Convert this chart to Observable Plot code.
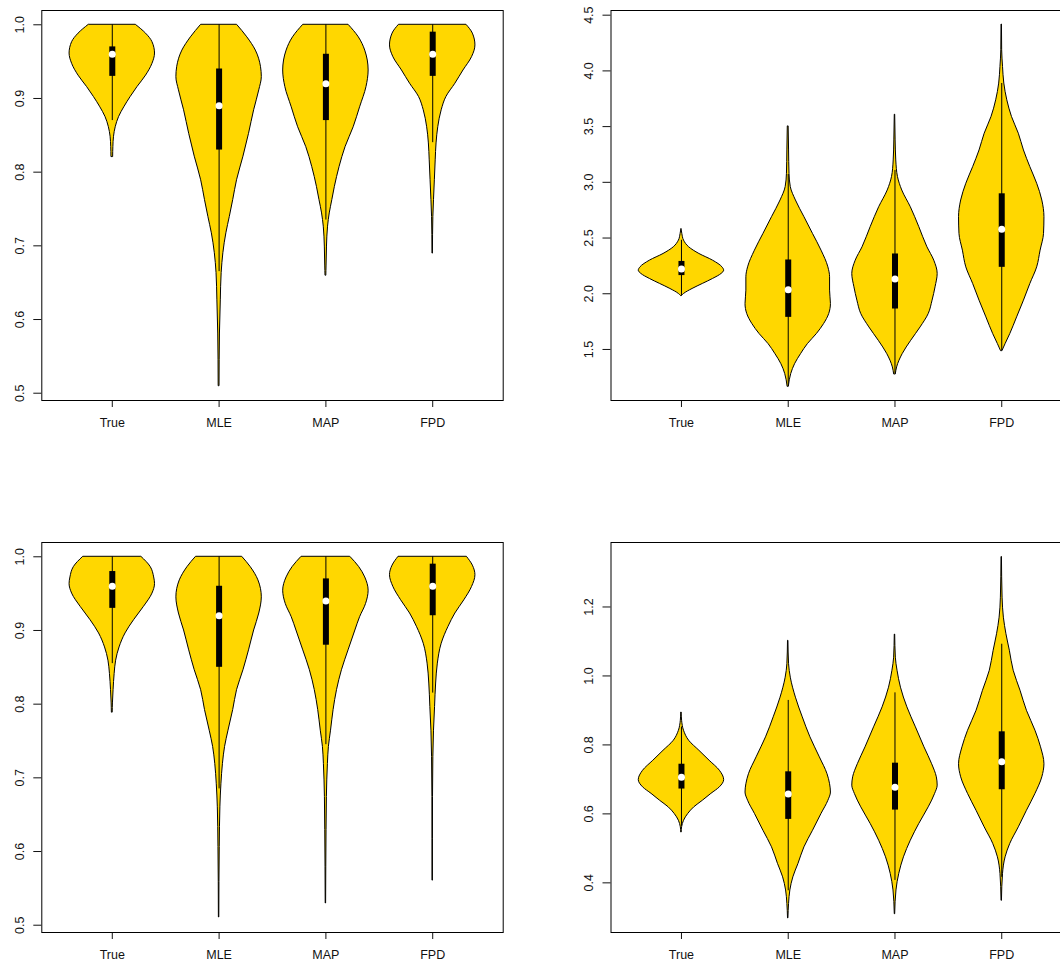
<!DOCTYPE html>
<html><head><meta charset="utf-8">
<script src="https://cdn.jsdelivr.net/npm/d3@7"></script>
<script src="https://cdn.jsdelivr.net/npm/@observablehq/plot@0.6"></script>
<style>
html,body{margin:0;padding:0;background:#fff;overflow:hidden;width:1060px;height:962px;position:relative;}
.panel{position:absolute;}
.panel svg{max-width:none !important;display:block;}
</style></head><body>
<div id="p1" class="panel" style="left:0;top:0;width:530px;height:440px"></div>
<div id="p2" class="panel" style="left:530px;top:0;width:560px;height:440px"></div>
<div id="p3" class="panel" style="left:0;top:532px;width:530px;height:430px"></div>
<div id="p4" class="panel" style="left:530px;top:532px;width:560px;height:430px"></div>
<script>
const categories = ["True", "MLE", "MAP", "FPD"];

// Violin outlines: [value, relative density (1 = widest)] for True, MLE, MAP, FPD
const topLeftProfiles = [
  [[1.0,0.55],[0.988,0.79],[0.9765,0.94],[0.961,1.0],[0.947,0.94],[0.931,0.79],[0.9155,0.59],[0.902,0.43],[0.888,0.28],[0.875,0.16],[0.861,0.08],[0.848,0.04],[0.834,0.025],[0.821,0.02]],
  [[1.0,0.42],[0.983,0.66],[0.965,0.86],[0.943,0.98],[0.929,1.0],[0.911,0.94],[0.884,0.82],[0.852,0.70],[0.821,0.57],[0.789,0.42],[0.762,0.33],[0.739,0.25],[0.717,0.17],[0.690,0.10],[0.663,0.06],[0.626,0.04],[0.581,0.02],[0.510,0.01]],
  [[1.0,0.53],[0.983,0.77],[0.965,0.92],[0.938,1.0],[0.9155,0.95],[0.888,0.80],[0.861,0.65],[0.834,0.46],[0.807,0.32],[0.780,0.21],[0.762,0.15],[0.744,0.09],[0.726,0.05],[0.699,0.025],[0.672,0.015],[0.660,0.01]],
  [[1.0,0.79],[0.988,0.94],[0.972,1.0],[0.956,0.92],[0.938,0.72],[0.920,0.53],[0.902,0.32],[0.884,0.21],[0.861,0.13],[0.839,0.09],[0.816,0.07],[0.789,0.05],[0.762,0.03],[0.739,0.015],[0.690,0.005]]
];
// [lower whisker, Q1, median, Q3, upper whisker]
const topLeftStats = [[0.87,0.93,0.96,0.97,1.0],[0.665,0.83,0.89,0.94,1.0],[0.735,0.87,0.92,0.96,1.0],[0.84,0.93,0.96,0.99,1.0]];
const topLeftTicks = [0.5,0.6,0.7,0.8,0.9,1.0];

const topRightProfiles = [
  [[2.582,0.0],[2.537,0.02],[2.477,0.06],[2.417,0.18],[2.357,0.42],[2.297,0.74],[2.237,0.96],[2.207,1.0],[2.178,0.94],[2.133,0.74],[2.088,0.5],[2.043,0.26],[1.998,0.06],[1.980,0.01]],
  [[3.502,0.01],[3.286,0.02],[3.076,0.03],[2.957,0.06],[2.837,0.18],[2.687,0.38],[2.537,0.58],[2.387,0.78],[2.237,0.94],[2.148,0.98],[2.028,0.98],[1.908,1.0],[1.818,0.96],[1.728,0.84],[1.638,0.67],[1.548,0.46],[1.458,0.3],[1.368,0.16],[1.279,0.07],[1.168,0.015]],
  [[3.607,0.005],[3.376,0.015],[3.196,0.03],[3.047,0.07],[2.927,0.17],[2.777,0.37],[2.597,0.57],[2.417,0.76],[2.297,0.92],[2.178,1.0],[2.058,0.95],[1.938,0.88],[1.818,0.79],[1.698,0.6],[1.578,0.38],[1.458,0.18],[1.339,0.05],[1.279,0.02]],
  [[4.416,0.005],[4.185,0.01],[4.036,0.03],[3.886,0.06],[3.736,0.13],[3.586,0.24],[3.436,0.40],[3.286,0.52],[3.136,0.67],[2.987,0.83],[2.837,0.95],[2.687,1.0],[2.537,0.99],[2.387,0.91],[2.237,0.83],[2.088,0.67],[1.938,0.52],[1.788,0.36],[1.638,0.2],[1.548,0.09],[1.488,0.02]]
];
const topRightStats = [[1.98,2.163,2.222,2.29,2.48],[1.168,1.788,2.037,2.303,3.07],[1.279,1.863,2.133,2.357,3.107],[1.488,2.237,2.579,2.897,3.887]];
const topRightTicks = [1.5,2.0,2.5,3.0,3.5,4.0,4.5];

const bottomLeftProfiles = [
  [[1.0,0.68],[0.986,0.90],[0.972,0.98],[0.963,1.0],[0.950,0.94],[0.932,0.74],[0.914,0.51],[0.896,0.31],[0.877,0.17],[0.859,0.09],[0.841,0.055],[0.819,0.03],[0.801,0.015],[0.789,0.01]],
  [[1.0,0.54],[0.986,0.74],[0.968,0.92],[0.945,1.0],[0.923,0.94],[0.900,0.82],[0.873,0.70],[0.846,0.57],[0.819,0.42],[0.792,0.33],[0.764,0.22],[0.742,0.14],[0.719,0.09],[0.692,0.055],[0.660,0.03],[0.606,0.015],[0.511,0.005]],
  [[1.0,0.57],[0.986,0.78],[0.972,0.92],[0.954,1.0],[0.936,0.94],[0.918,0.80],[0.900,0.69],[0.873,0.53],[0.846,0.375],[0.819,0.26],[0.792,0.18],[0.764,0.12],[0.742,0.07],[0.719,0.047],[0.674,0.023],[0.629,0.015],[0.530,0.005]],
  [[1.0,0.80],[0.988,0.94],[0.975,1.0],[0.959,0.92],[0.941,0.74],[0.923,0.53],[0.905,0.37],[0.882,0.21],[0.855,0.12],[0.828,0.08],[0.796,0.055],[0.764,0.03],[0.728,0.015],[0.674,0.007],[0.561,0.005]]
];
const bottomLeftStats = [[0.855,0.93,0.96,0.98,1.0],[0.685,0.85,0.92,0.96,1.0],[0.745,0.88,0.94,0.97,1.0],[0.815,0.92,0.96,0.99,1.0]];
const bottomLeftTicks = [0.5,0.6,0.7,0.8,0.9,1.0];

const bottomRightProfiles = [
  [[0.894,0.005],[0.870,0.015],[0.841,0.06],[0.812,0.18],[0.783,0.42],[0.754,0.66],[0.725,0.90],[0.698,1.0],[0.677,0.90],[0.658,0.70],[0.638,0.50],[0.619,0.30],[0.600,0.16],[0.580,0.06],[0.561,0.015],[0.547,0.005]],
  [[1.102,0.005],[1.034,0.02],[0.995,0.06],[0.937,0.18],[0.880,0.34],[0.822,0.52],[0.764,0.74],[0.715,0.92],[0.686,0.98],[0.662,1.0],[0.638,0.94],[0.600,0.78],[0.551,0.58],[0.503,0.38],[0.455,0.24],[0.416,0.12],[0.378,0.05],[0.339,0.02],[0.298,0.005]],
  [[1.12,0.005],[1.053,0.02],[1.015,0.06],[0.966,0.14],[0.909,0.29],[0.851,0.49],[0.793,0.69],[0.744,0.87],[0.706,0.98],[0.682,1.0],[0.658,0.94],[0.619,0.79],[0.571,0.57],[0.522,0.37],[0.474,0.21],[0.426,0.10],[0.378,0.035],[0.310,0.005]],
  [[1.345,0.005],[1.227,0.02],[1.169,0.05],[1.121,0.11],[1.073,0.19],[1.015,0.28],[0.957,0.44],[0.899,0.59],[0.841,0.79],[0.793,0.92],[0.744,1.0],[0.706,0.95],[0.658,0.79],[0.609,0.59],[0.561,0.40],[0.513,0.20],[0.474,0.09],[0.426,0.03],[0.349,0.005]]
];
const bottomRightStats = [[0.564,0.672,0.706,0.744,0.852],[0.377,0.584,0.658,0.722,0.929],[0.407,0.611,0.677,0.747,0.951],[0.416,0.670,0.751,0.838,1.092]];
const bottomRightTicks = [0.4,0.6,0.8,1.0,1.2];

function violinPanel(profiles, stats, yDomain, yTicks, layout) {
  const rows = profiles.flatMap((prof, i) =>
    prof.map(([v, d]) => ({cat: i + 1, v, d})).sort((a, b) => a.v - b.v));
  const boxes = stats.map(([lo, q1, med, q3, hi], i) => ({cat: i + 1, lo, q1, med, q3, hi}));
  const half = 0.4;
  return Plot.plot({
    ...layout,
    style: {fontFamily: "'Liberation Sans', Arial, sans-serif", fontSize: "12.5px", color: "#111", background: "white", maxWidth: "none", overflow: "visible"},
    x: {domain: [0.34, 4.66], ticks: [1, 2, 3, 4], tickFormat: i => categories[i - 1], tickSize: 7, tickPadding: 11, label: null},
    y: {domain: yDomain, ticks: yTicks, tickFormat: d3.format(".1f"), tickSize: 8, tickPadding: 10, tickRotate: -90, label: null},
    marks: [
      Plot.areaX(rows, {y: "v", x1: r => r.cat - half * r.d, x2: r => r.cat + half * r.d, z: "cat",
        fill: "#FFD700", stroke: "black", strokeWidth: 1, curve: "monotone-y"}),
      Plot.ruleX(boxes, {x: "cat", y1: "lo", y2: "hi", stroke: "black", strokeWidth: 1}),
      Plot.ruleX(boxes, {x: "cat", y1: "q1", y2: "q3", stroke: "black", strokeWidth: 6}),
      Plot.dot(boxes, {x: "cat", y: "med", r: 3.5, fill: "white", stroke: null}),
      Plot.frame({stroke: "black", strokeWidth: 1})
    ]
  });
}

const leftLayout = {width: 530, marginLeft: 41.3, marginRight: 27.3, marginTop: 10};
const rightLayout = {width: 560, marginLeft: 80.5, marginRight: 18.3, marginTop: 10};

document.getElementById("p1").append(violinPanel(topLeftProfiles, topLeftStats, [0.4901, 1.0194], topLeftTicks, {...leftLayout, height: 440, marginBottom: 40}));
document.getElementById("p2").append(violinPanel(topRightProfiles, topRightStats, [1.042, 4.542], topRightTicks, {...rightLayout, height: 440, marginBottom: 40}));
document.getElementById("p3").append(violinPanel(bottomLeftProfiles, bottomLeftStats, [0.4901, 1.0194], bottomLeftTicks, {...leftLayout, height: 430, marginBottom: 30}));
document.getElementById("p4").append(violinPanel(bottomRightProfiles, bottomRightStats, [0.256, 1.387], bottomRightTicks, {...rightLayout, height: 430, marginBottom: 30}));
</script>
</body></html>
